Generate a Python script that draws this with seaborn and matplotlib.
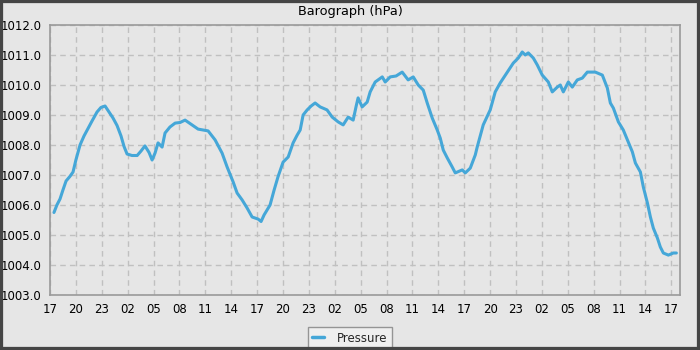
import matplotlib
matplotlib.use("Agg")
import matplotlib.pyplot as plt
from matplotlib.patches import Rectangle
from matplotlib.ticker import MultipleLocator
import seaborn as sns
import pandas as pd

hours = [0.46, 0.8, 1.16, 1.5, 1.86, 2.3, 2.67, 3.0, 3.48, 3.94, 4.4, 4.87, 5.45, 5.9, 6.38,
         6.84, 7.3, 7.77, 8.23, 8.58, 8.93, 9.5, 10.1, 10.55, 11.0, 11.48, 11.83, 12.17, 12.52,
         12.99, 13.33, 13.9, 14.5, 15.07, 15.65, 16.46, 17.16, 18.32, 19.13, 19.94, 20.52,
         21.22, 21.68, 22.26, 22.84, 23.42, 24.12, 24.46, 24.81, 25.5, 25.97, 26.43, 27.01,
         27.6, 28.17, 28.64, 28.99, 29.33, 29.8, 30.26, 30.72, 31.3, 32.1, 32.7, 33.39, 33.97,
         34.55, 35.13, 35.48, 35.7, 36.17, 36.75, 37.1, 37.68, 38.5, 38.84, 39.42, 40.1, 40.81,
         41.5, 42.09, 42.67, 43.25, 43.71, 44.29, 44.87, 45.22, 45.57, 46.03, 46.6, 46.96,
         47.77, 48.12, 48.7, 49.28, 49.5, 50.2, 51.01, 51.59, 52.17, 52.99, 53.68, 54.26,
         54.72, 55.07, 55.42, 56.0, 56.46, 57.04, 57.74, 58.2, 58.78, 59.13, 59.48, 60.06,
         60.52, 61.1, 61.68, 62.26, 63.19, 64.0, 64.58, 64.93, 65.28, 65.86, 66.43, 67.01,
         67.48, 67.83, 68.41, 68.75, 69.22, 69.57, 69.91, 70.38, 70.72, 71.07, 71.65, 72.23,
         72.58]
pressure = [1005.75, 1006.0, 1006.2, 1006.5, 1006.8, 1006.95, 1007.1, 1007.5, 1008.0, 1008.3,
            1008.55, 1008.8, 1009.1, 1009.25, 1009.3, 1009.1, 1008.9, 1008.65, 1008.3, 1007.95,
            1007.7, 1007.65, 1007.65, 1007.8, 1007.97, 1007.75, 1007.5, 1007.73, 1008.07,
            1007.93, 1008.4, 1008.6, 1008.73, 1008.75, 1008.83, 1008.67, 1008.53, 1008.47,
            1008.17, 1007.73, 1007.27, 1006.77, 1006.4, 1006.17, 1005.9, 1005.6, 1005.53,
            1005.45, 1005.67, 1006.0, 1006.5, 1006.95, 1007.43, 1007.6, 1008.07, 1008.33,
            1008.5, 1009.0, 1009.17, 1009.3, 1009.4, 1009.27, 1009.17, 1008.93, 1008.77,
            1008.67, 1008.93, 1008.83, 1009.3, 1009.57, 1009.27, 1009.43, 1009.77, 1010.1,
            1010.27, 1010.1, 1010.27, 1010.3, 1010.43, 1010.17, 1010.27, 1010.0, 1009.83,
            1009.4, 1008.9, 1008.5, 1008.23, 1007.83, 1007.57, 1007.27, 1007.07, 1007.17,
            1007.07, 1007.23, 1007.67, 1007.93, 1008.67, 1009.17, 1009.77, 1010.07, 1010.43,
            1010.73, 1010.9, 1011.1, 1011.0, 1011.07, 1010.9, 1010.67, 1010.33, 1010.1,
            1009.77, 1009.93, 1010.0, 1009.77, 1010.1, 1009.93, 1010.17, 1010.23, 1010.43,
            1010.43, 1010.33, 1009.9, 1009.4, 1009.23, 1008.77, 1008.5, 1008.1, 1007.77,
            1007.4, 1007.1, 1006.6, 1006.07, 1005.6, 1005.23, 1004.9, 1004.6, 1004.4,
            1004.33, 1004.4, 1004.4]
tick_labels = ["17", "20", "23", "02", "05", "08", "11", "14",
               "17", "20", "23", "02", "05", "08", "11", "14",
               "17", "20", "23", "02", "05", "08", "11", "14", "17"]
series_name = "Pressure"
title = "Barograph (hPa)"

df = pd.DataFrame({"hour": hours, "hPa": pressure})

bg = "#e6e6e6"
line_color = "#45a7d8"
sns.set_style("white")
plt.rcParams["font.family"] = ["DejaVu Sans"]

fig = plt.figure(figsize=(7, 3.5), dpi=100, facecolor=bg)
ax = fig.add_axes([50/700, 55/350, 630/700, 270/350])
ax.set_facecolor(bg)

sns.lineplot(data=df, x="hour", y="hPa", color=line_color, label=series_name,
             linewidth=2.2, ax=ax)
handles, labels = ax.get_legend_handles_labels()
if ax.get_legend() is not None:
    ax.get_legend().remove()

ax.set_xlim(0, 73)
ax.set_ylim(1003, 1012)
ax.set_xticks([3 * i for i in range(len(tick_labels))])
ax.set_xticklabels(tick_labels)
ax.xaxis.set_minor_locator(MultipleLocator(1))
ax.yaxis.set_major_locator(MultipleLocator(1))
ax.yaxis.set_minor_locator(MultipleLocator(0.5))
ax.yaxis.set_major_formatter(plt.FormatStrFormatter("%.1f"))
ax.tick_params(axis="both", which="major", direction="out", length=4, width=1,
               color="#000000", labelsize=8.5, pad=2, labelcolor="#000000")
ax.tick_params(axis="both", which="minor", direction="out", length=2.5, width=1, color="#000000")
ax.grid(True, which="major", linestyle=(0, (4, 3)), color="#c0c0c0", linewidth=1)
for s in ax.spines.values():
    s.set_color("#9a9a9a")
    s.set_linewidth(1.2)
ax.set_xlabel("")
ax.set_ylabel("")
fig.text(350/700, 1 - 12/350, title, fontsize=9.3, ha="center", va="center", color="#000000")

leg = fig.legend(handles, labels, loc="center", bbox_to_anchor=(350/700, 1 - 338/350),
                 frameon=True, fancybox=False, fontsize=8.5,
                 handlelength=1.0, handletextpad=1.1, borderpad=0.35, borderaxespad=0)
leg.get_frame().set_facecolor("#f2f2f2")
leg.get_frame().set_edgecolor("#808080")
leg.get_frame().set_linewidth(1)
for line in leg.get_lines():
    line.set_linewidth(2.5)

fig.patches.append(Rectangle((0, 0), 1, 1, transform=fig.transFigure, fill=False,
                             edgecolor="#454545", linewidth=4.5, zorder=10))

fig.savefig("out.png", dpi=100, facecolor=bg)
